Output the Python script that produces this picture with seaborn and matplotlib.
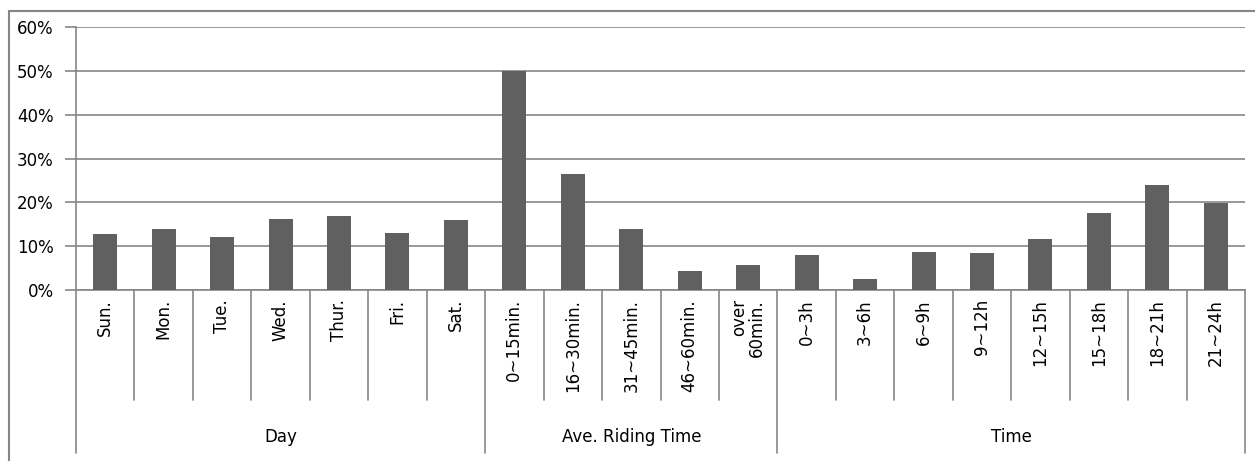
import matplotlib
matplotlib.use('Agg')
import matplotlib.pyplot as plt
import matplotlib.transforms as mtransforms
from matplotlib.lines import Line2D
import seaborn as sns
import pandas as pd

# data
day_labels = ['Sun.', 'Mon.', 'Tue.', 'Wed.', 'Thur.', 'Fri.', 'Sat.']
day_values = [12.8, 13.9, 12.1, 16.2, 16.9, 13.0, 16.0]

ride_labels = ['0~15min.', '16~30min.', '31~45min.', '46~60min.', 'over\n60min.']
ride_values = [50.0, 26.5, 13.9, 4.3, 5.7]

time_labels = ['0~3h', '3~6h', '6~9h', '9~12h', '12~15h', '15~18h', '18~21h', '21~24h']
time_values = [8.0, 2.5, 8.7, 8.5, 11.7, 17.6, 24.0, 19.9]

group_names = ['Day', 'Ave. Riding Time', 'Time']
group_sizes = [len(day_labels), len(ride_labels), len(time_labels)]

labels = day_labels + ride_labels + time_labels
values = day_values + ride_values + time_values
df = pd.DataFrame({'pos': range(len(labels)), 'value': values})

sns.set_style('white')
plt.rcParams['font.family'] = ['DejaVu Sans']
FS = 12

W, H = 1255, 461
fig = plt.figure(figsize=(W / 100, H / 100), dpi=100)
ax = fig.add_axes([76 / W, 1 - 290 / H, (1245 - 76) / W, (290 - 27) / H])

grid_c = '#868686'
sns.barplot(data=df, x='pos', y='value', color='#606060', width=0.41,
            saturation=1, linewidth=0, ax=ax, zorder=3)

ax.set_ylim(0, 60)
ax.set_xlim(-0.5, len(labels) - 0.5)
ax.set_yticks(range(0, 61, 10))
ax.set_yticklabels([f'{v}%' for v in range(0, 61, 10)], fontsize=FS, color='black')
ax.yaxis.grid(True, color=grid_c, linewidth=1.2, zorder=0)
ax.set_axisbelow(True)
ax.tick_params(axis='y', length=8, width=1.2, color=grid_c, left=True, pad=8)
ax.set_xticks([])
ax.set_xlabel('')
ax.set_ylabel('')
for s in ['top', 'right']:
    ax.spines[s].set_visible(False)
for s in ['left', 'bottom']:
    ax.spines[s].set_color(grid_c)
    ax.spines[s].set_linewidth(1.2)

# multi-level category axis drawn below the plot
px = mtransforms.blended_transform_factory(ax.transData, fig.transFigure)
def fy(p):
    return 1 - p / H

group_edges = [-0.5]
for n in group_sizes:
    group_edges.append(group_edges[-1] + n)

for i in range(len(labels) + 1):
    xb = i - 0.5
    y_end = 453 if xb in group_edges else 400
    fig.add_artist(Line2D([xb, xb], [fy(290), fy(y_end)], transform=px,
                          color=grid_c, linewidth=1.2))

for i, lab in enumerate(labels):
    fig.text(i, fy(299), lab, transform=px, rotation=90, ha='center', va='top',
             fontsize=FS, color='black', multialignment='right', linespacing=1.0)

for k, name in enumerate(group_names):
    xc = (group_edges[k] + group_edges[k + 1]) / 2
    fig.text(xc, fy(437), name, transform=px, ha='center', va='center',
             fontsize=FS, color='black')

# outer chart frame
fig.add_artist(Line2D([9 / W, 9 / W], [0, 1 - 11 / H], color=grid_c, linewidth=1.5))
fig.add_artist(Line2D([9 / W, 1], [1 - 11 / H, 1 - 11 / H], color=grid_c, linewidth=1.5))

fig.savefig('out.png', dpi=100)
